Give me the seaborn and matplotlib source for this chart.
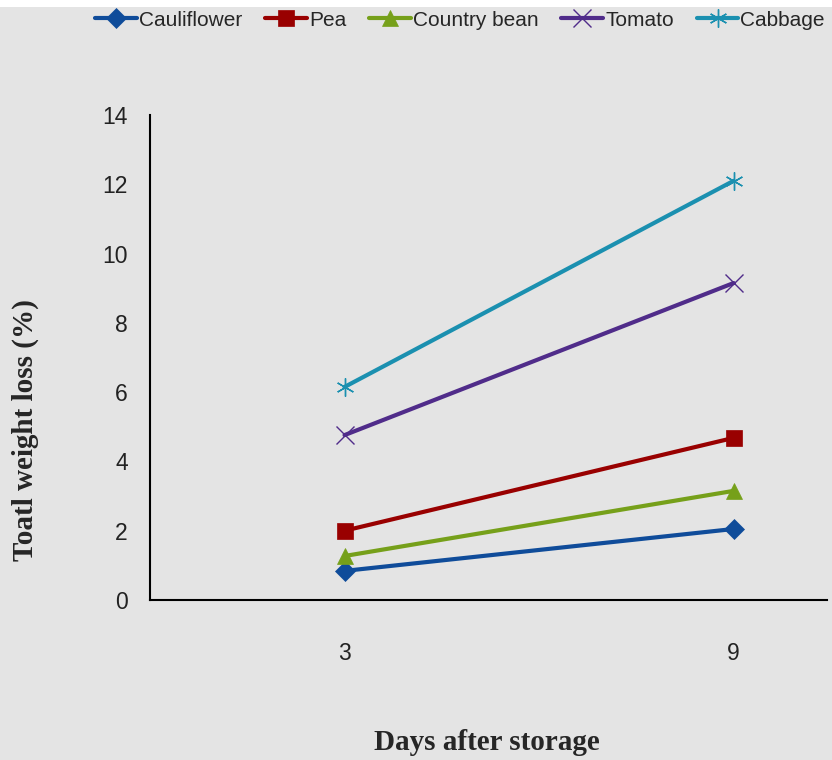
import matplotlib
matplotlib.use("Agg")
import matplotlib.pyplot as plt
import seaborn as sns
import pandas as pd
from matplotlib.patches import Rectangle

# data
days = ["3", "9"]
cauliflower = [0.84, 2.05]
pea = [2.0, 4.68]
country_bean = [1.27, 3.15]
tomato = [4.76, 9.15]
cabbage = [6.15, 12.1]

names = ["Cauliflower", "Pea", "Country bean", "Tomato", "Cabbage"]
colors = ["#0f4c9a", "#990000", "#76a01a", "#502c8a", "#1b90b0"]
markers = ["D", "s", "^", "x", (6, 2, 0)]
msizes = [10, 12, 12, 13, 13]

bg = "#e4e4e4"
sns.set_theme(style="white")
plt.rcParams["font.family"] = ["Liberation Sans", "DejaVu Sans"]

rows = []
for name, vals in zip(names, [cauliflower, pea, country_bean, tomato, cabbage]):
    for d, v in zip(days, vals):
        rows.append({"Days": d, "loss": v, "Crop": name})
df = pd.DataFrame(rows)

fig = plt.figure(figsize=(8.32, 7.6), dpi=100, facecolor=bg)
fig.patches.append(Rectangle((0, 1 - 7 / 760), 1, 7 / 760, transform=fig.transFigure,
                             facecolor="white", edgecolor="none", zorder=-1))
ax = fig.add_axes([150 / 832, 1 - 600 / 760, 677 / 832, 485 / 760])
ax.set_facecolor(bg)

for name, c, m, ms in zip(names, colors, markers, msizes):
    sub = df[df["Crop"] == name]
    sns.lineplot(data=sub, x="Days", y="loss", ax=ax, color=c, linewidth=3,
                 marker=m, markersize=ms, markeredgecolor=c,
                 markeredgewidth=1.0 if m in ("x", (6, 2, 0)) else 0.5,
                 label=name, sort=False)

ax.set_xlim(-0.5, 1.24)
ax.set_ylim(0, 14)
ax.set_yticks(range(0, 15, 2))
ax.tick_params(axis="both", length=0, labelsize=16.5, colors="#222222", pad=16)
ax.tick_params(axis="x", pad=30)
for s in ["top", "right"]:
    ax.spines[s].set_visible(False)
for s in ["left", "bottom"]:
    ax.spines[s].set_color("black")
    ax.spines[s].set_linewidth(1.5)

ax.set_xlabel("")
ax.set_ylabel("")
fig.text(0.585, 1 - 742 / 760, "Days after storage", ha="center", va="center",
         fontsize=21, fontweight="bold", family="Liberation Serif")
fig.text(25 / 832, 1 - 430 / 760, "Toatl weight loss (%)", ha="center", va="center",
         rotation=90, fontsize=21, fontweight="bold", family="Liberation Serif")

ax.get_legend().remove()
handles, labels = ax.get_legend_handles_labels()
fig.legend(handles, labels, loc="center", bbox_to_anchor=(0.553, 1 - 20 / 760), ncol=5,
           frameon=False, fontsize=15, handlelength=2.0, handletextpad=0.1,
           columnspacing=1.1, borderaxespad=0)

fig.savefig("out.png", dpi=100, facecolor=bg)
